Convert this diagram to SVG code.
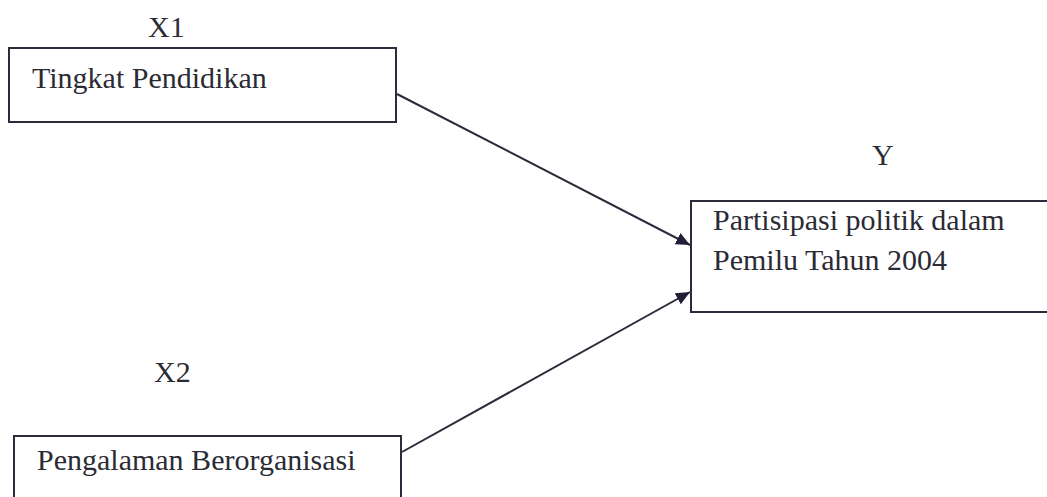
<svg xmlns="http://www.w3.org/2000/svg" width="1047" height="497" viewBox="0 0 1047 497">
<defs>
<style>
.box{fill:none;stroke:#2b2b3b;stroke-width:2}
.t{font-family:"Liberation Serif","Times New Roman",serif;font-size:30px;fill:#2b2b35}
.edge{stroke:#2b2b3b;stroke-width:2;fill:none}
</style>
<marker id="ahb" viewBox="0 0 10 10" refX="10" refY="5" markerWidth="14" markerHeight="14" markerUnits="userSpaceOnUse" orient="auto">
<path d="M0,0.5 L10,5 L0,9.5 z" fill="#1f1f35"/>
</marker>
</defs>
<rect width="1047" height="497" fill="#ffffff"/>
<g id="x1">
<text class="t" x="148" y="37">X1</text>
<rect class="box" x="9" y="48" width="387" height="74"/>
<text class="t" x="32" y="88">Tingkat Pendidikan</text>
</g>
<g id="x2">
<text class="t" x="154" y="382">X2</text>
<rect class="box" x="14" y="436" width="387" height="80"/>
<text class="t" x="37" y="470">Pengalaman Berorganisasi</text>
</g>
<g id="y">
<text class="t" x="872" y="165">Y</text>
<rect class="box" x="691" y="201" width="380" height="111"/>
<text class="t" x="713" y="230">Partisipasi politik dalam</text>
<text class="t" x="713" y="270">Pemilu Tahun 2004</text>
</g>
<g id="connectors">
<line class="edge" x1="397" y1="94" x2="690" y2="245" marker-end="url(#ahb)"/>
<line class="edge" x1="402" y1="452" x2="690" y2="292" marker-end="url(#ahb)"/>
</g>
</svg>
